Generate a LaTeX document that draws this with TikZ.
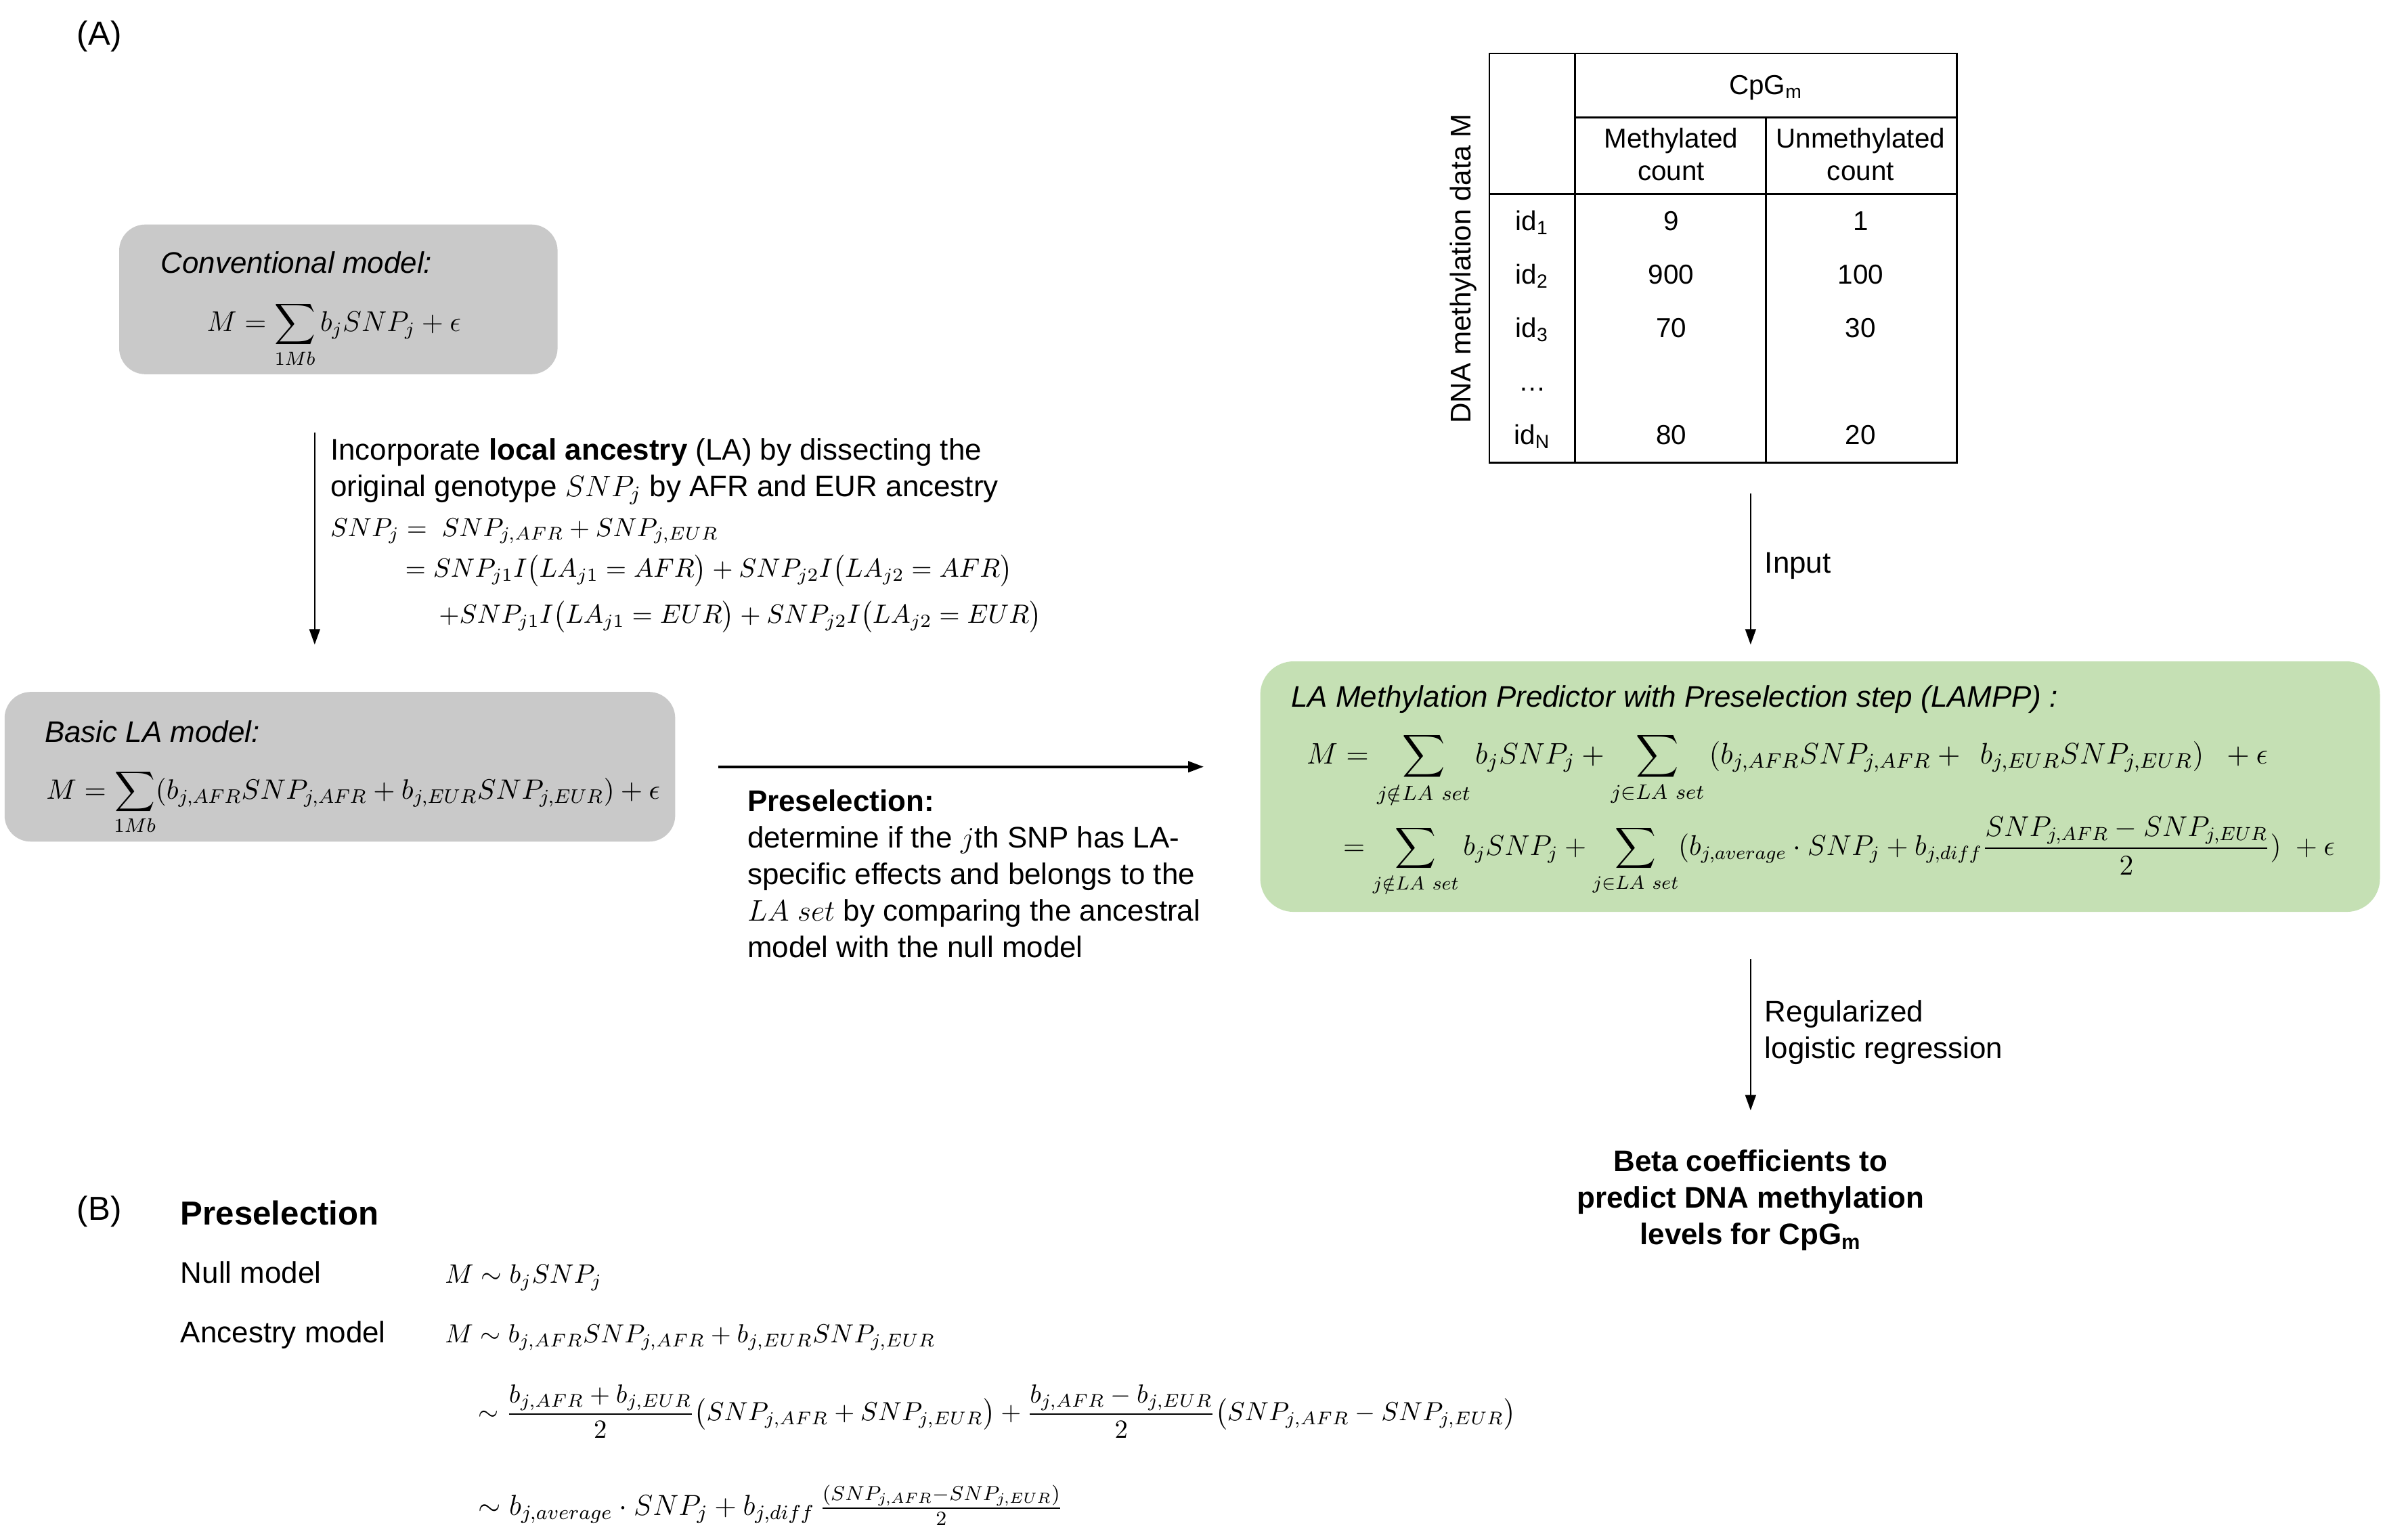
\RequirePackage{fix-cm}
\documentclass[tikz,border=0pt]{standalone}
\usepackage{amsmath}
\usepackage{amssymb}
\usepackage{fontspec}
\setmainfont{Liberation Sans}
\usepackage{tikz}
\usetikzlibrary{arrows.meta,positioning,fit}
\usepackage{xcolor}
\definecolor{boxgray}{RGB}{201,201,201}
\definecolor{boxgreen}{RGB}{197,224,180}
\tikzstyle{arrow} = [->,>={Triangle[length=6.5pt,width=4.5pt]},line width=0.6pt]
\tikzstyle{graybox} = [fill=boxgray, rounded corners=11pt, inner sep=0pt]
\tikzstyle{greenbox} = [fill=boxgreen, rounded corners=14pt, inner sep=0pt]
\tikzstyle{txt} = [anchor=base west, inner sep=0pt]
\tikzstyle{cell} = [anchor=base, inner sep=0pt, font=\fontsize{11.5}{13.5}\selectfont]

\begin{document}
\begin{tikzpicture}[x=0.022564cm, y=-0.022564cm, font=\fontsize{12.5}{15.4}\selectfont]
\useasboundingbox (0,0) rectangle (1560,1008.2);

% Panel labels
\node[font=\fontsize{14}{16}\selectfont] (labA) at (65,24) {(A)};
\node[font=\fontsize{14}{16}\selectfont] (labB) at (65,793) {(B)};

% Model boxes
\node[graybox, fit={(78,147) (365,245)}] (conv) {};
\node[graybox, fit={(3,453) (442,551)}] (basic) {};
\node[greenbox, fit={(825,433) (1558,597)}] (lampp) {};

% Conventional model
\node[txt, font=\fontsize{12.5}{15.4}\selectfont\itshape] (convtitle) at (105,179) {Conventional model:};
\node[txt, font=\fontsize{12}{14}\selectfont] (conveq) at (135,217) {$\displaystyle M = \sum_{1Mb} b_jSNP_j + \epsilon$};

% Incorporate LA
\coordinate (incstart) at (206,283);
\coordinate (incend) at (206,422);
\draw[arrow] (incstart) -- (incend);
\node[txt, align=left] (incorp) at (216,325) {Incorporate \textbf{local ancestry} (LA) by dissecting the\\original genotype $SNP_j$ by AFR and EUR ancestry};
\node[txt, font=\fontsize{11}{13}\selectfont] (snpsum) at (216,351) {$SNP_j =\ SNP_{j,AFR} + SNP_{j,EUR}$};
\node[txt, font=\fontsize{11.1}{13}\selectfont] (snpafr) at (265,378) {$= SNP_{j1}I\bigl(LA_{j1} = AFR\bigr) + SNP_{j2}I\bigl(LA_{j2} = AFR\bigr)$};
\node[txt, font=\fontsize{11.1}{13}\selectfont] (snpeur) at (287,408) {$+SNP_{j1}I\bigl(LA_{j1} = EUR\bigr) + SNP_{j2}I\bigl(LA_{j2} = EUR\bigr)$};

% Basic LA model
\node[txt, font=\fontsize{12.5}{15.4}\selectfont\itshape] (basictitle) at (29,486) {Basic LA model:};
\node[txt, font=\fontsize{11.8}{14}\selectfont] (basiceq) at (30,523) {$\displaystyle M = \sum_{1Mb}(b_{j,AFR}SNP_{j,AFR} + b_{j,EUR}SNP_{j,EUR}) + \epsilon$};

% Preselection step
\coordinate (prestart) at (470,502);
\coordinate (preend) at (788,502);
\draw[arrow, line width=1.1pt] (prestart) -- (preend);
\node[txt, align=left] (pretext) at (489,627) {\textbf{Preselection:}\\determine if the $j$th SNP has LA-\\specific effects and belongs to the\\$LA\ set$ by comparing the ancestral\\model with the null model};

% Methylation table
\draw[line width=0.8pt] (975,35) rectangle (1281,303);
\draw[line width=0.8pt] (1031,35) -- (1031,303);
\draw[line width=0.8pt] (1156,77) -- (1156,303);
\draw[line width=0.8pt] (1031,77) -- (1281,77);
\draw[line width=0.8pt] (975,127) -- (1281,127);
\node[rotate=90, font=\fontsize{12}{14}\selectfont] (dnalabel) at (958,176) {DNA methylation data M};
\node[cell] (cpg) at (1156,62) {CpG\textsubscript{m}};
\node[cell, align=center] (methhead) at (1094,118) {Methylated\\count};
\node[cell, align=center] (unmethhead) at (1218,118) {Unmethylated\\count};
\foreach \idx/\m/\u/\y [count=\n] in {1/9/1/151, 2/900/100/186, 3/70/30/221, N/80/20/291} {
    \node[cell] (id\n) at (1003,\y) {id\textsubscript{\idx}};
    \node[cell] (meth\n) at (1094,\y) {\m};
    \node[cell] (unmeth\n) at (1218,\y) {\u};
}
\node[cell] (iddots) at (1003,256) {\ldots};

% Input arrow
\coordinate (instart) at (1146,323);
\coordinate (inend) at (1146,422);
\draw[arrow] (instart) -- (inend);
\node[txt] (inputlab) at (1155,375) {Input};

% LAMPP
\node[txt, font=\fontsize{12.5}{15.4}\selectfont\itshape] (lampptitle) at (845,463) {LA Methylation Predictor with Preselection step (LAMPP) :};
\node[txt] (lamppeq1) at (855,500) {$\displaystyle M = \sum_{j\notin LA\ set} b_jSNP_j + \sum_{j\in LA\ set}\,(b_{j,AFR}SNP_{j,AFR} +\;\, b_{j,EUR}SNP_{j,EUR})\;\; + \epsilon$};
\node[txt, font=\fontsize{12}{14}\selectfont] (lamppeq2) at (879,560) {$\displaystyle = \sum_{j\notin LA\ set} b_jSNP_j + \sum_{j\in LA\ set}(b_{j,average}\cdot SNP_j + b_{j,diff}\frac{SNP_{j,AFR}-SNP_{j,EUR}}{2})\; + \epsilon$};

% Regression arrow
\coordinate (regstart) at (1146,628);
\coordinate (regend) at (1146,727);
\draw[arrow] (regstart) -- (regend);
\node[txt, align=left] (reglab) at (1155,693) {Regularized\\logistic regression};
\node[anchor=base, inner sep=0pt, align=center, font=\fontsize{12.5}{15.4}\selectfont\bfseries] (beta) at (1146,815) {Beta coefficients to\\predict DNA methylation\\levels for CpG\textsubscript{m}};

% Preselection models
\node[txt, font=\fontsize{14}{16}\selectfont\bfseries] (pretitle) at (118,802) {Preselection};
\node[txt] (nulllab) at (118,840) {Null model};
\node[txt, font=\fontsize{11.2}{13}\selectfont] (nulleq) at (291,840) {$M \sim b_jSNP_j$};
\node[txt] (anclab) at (118,879) {Ancestry model};
\node[txt, font=\fontsize{11}{13}\selectfont] (anceq1) at (291,879) {$M \sim b_{j,AFR}SNP_{j,AFR} + b_{j,EUR}SNP_{j,EUR}$};
\node[txt, font=\fontsize{11}{13}\selectfont] (anceq2) at (313,930) {$\displaystyle \sim \frac{b_{j,AFR} + b_{j,EUR}}{2}\bigl(SNP_{j,AFR} + SNP_{j,EUR}\bigr) + \frac{b_{j,AFR} - b_{j,EUR}}{2}\bigl(SNP_{j,AFR} - SNP_{j,EUR}\bigr)$};
\node[txt, font=\fontsize{12.2}{14}\selectfont] (anceq3) at (313,992) {$\sim b_{j,average}\cdot SNP_j + b_{j,diff}\,\frac{(SNP_{j,AFR}-SNP_{j,EUR})}{2}$};
\end{tikzpicture}
\end{document}
